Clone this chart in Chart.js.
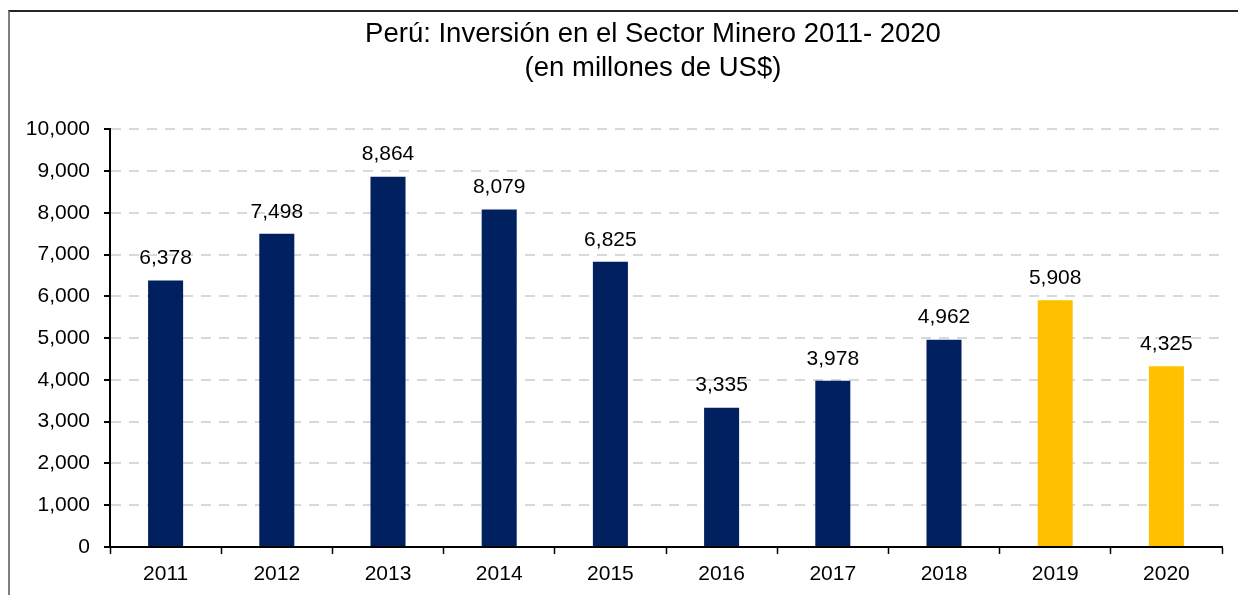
<!DOCTYPE html>
<html>
<head>
<meta charset="utf-8">
<script src="https://cdn.jsdelivr.net/npm/chart.js@4/dist/chart.umd.min.js"></script>
<style>
  html, body { margin: 0; padding: 0; background: #fff; overflow: hidden; }
  #wrap { position: relative; width: 1238px; height: 595px; overflow: hidden; }
  #frame {
    position: absolute; left: 8px; top: 10px; width: 1300px; height: 700px;
    border-left: 2px solid #7f7f7f; border-top: 2px solid #262626;
  }
  canvas { position: absolute; left: 0; top: 0; }
</style>
</head>
<body>
<div id="wrap">
  <div id="frame"></div>
  <canvas id="chart" width="1238" height="595"></canvas>
</div>
<script>
// Inversión minera, millones de US$
const years = ['2011', '2012', '2013', '2014', '2015', '2016', '2017', '2018', '2019', '2020'];
const inversion = [6378, 7498, 8864, 8079, 6825, 3335, 3978, 4962, 5908, 4325];
const titleLines = ['Perú: Inversión en el Sector Minero 2011- 2020', '(en millones de US$)'];

const NAVY = '#002060';
const GOLD = '#ffc000';
const FONT = '"Liberation Sans", Arial, sans-serif';

const fmt = (v) => v.toLocaleString('en-US');

// value labels above each bar
const barLabels = {
  id: 'barLabels',
  afterDatasetsDraw(chart) {
    const ctx = chart.ctx;
    const meta = chart.getDatasetMeta(0);
    ctx.save();
    ctx.font = '21px ' + FONT;
    ctx.fillStyle = '#000';
    ctx.textAlign = 'center';
    ctx.textBaseline = 'middle';
    meta.data.forEach((bar, i) => {
      ctx.fillText(fmt(inversion[i]), bar.x, bar.y - 22);
    });
    ctx.restore();
  }
};

// the original title sits a bit right of the canvas centre
const titleShift = {
  id: 'titleShift',
  afterLayout(chart) {
    if (chart.titleBlock) {
      chart.titleBlock.left = 84;
      chart.titleBlock.right = chart.chartArea.right;
    }
  }
};

new Chart(document.getElementById('chart').getContext('2d'), {
  type: 'bar',
  plugins: [barLabels, titleShift],
  data: {
    labels: years,
    datasets: [{
      data: inversion,
      backgroundColor: years.map(y => (+y >= 2019 ? GOLD : NAVY)),
      borderWidth: 0,
      barPercentage: 0.315,
      categoryPercentage: 1
    }]
  },
  options: {
    responsive: false,
    animation: false,
    events: [],
    layout: { padding: { left: 0, right: 16, top: 0, bottom: 0 } },
    plugins: {
      legend: { display: false },
      tooltip: { enabled: false },
      title: {
        display: true,
        text: titleLines,
        color: '#000',
        font: { family: FONT, size: 27.5, weight: 'normal', lineHeight: 1.24 },
        padding: { top: 17, bottom: 44 }
      }
    },
    scales: {
      x: {
        grid: {
          display: true,
          drawOnChartArea: false,
          drawTicks: true,
          tickLength: 7,
          tickColor: '#000',
          tickWidth: 1.5,
          offset: true
        },
        border: { display: true, color: '#000', width: 2 },
        ticks: { color: '#000', font: { family: FONT, size: 21 }, padding: 8 },
        afterFit: (s) => { s.height = 48; }
      },
      y: {
        min: 0,
        max: 10000,
        grid: {
          color: '#d9d9d9',
          lineWidth: 2,
          drawTicks: true,
          tickLength: 6,
          tickColor: '#000',
          tickWidth: 2,
          tickBorderDash: []
        },
        border: { display: true, color: '#000', width: 2, dash: [10, 8] },
        ticks: {
          stepSize: 1000,
          color: '#000',
          font: { family: FONT, size: 21 },
          padding: 14,
          callback: (v) => fmt(v)
        },
        afterFit: (s) => { s.width = 110; }
      }
    }
  }
});
</script>
</body>
</html>
